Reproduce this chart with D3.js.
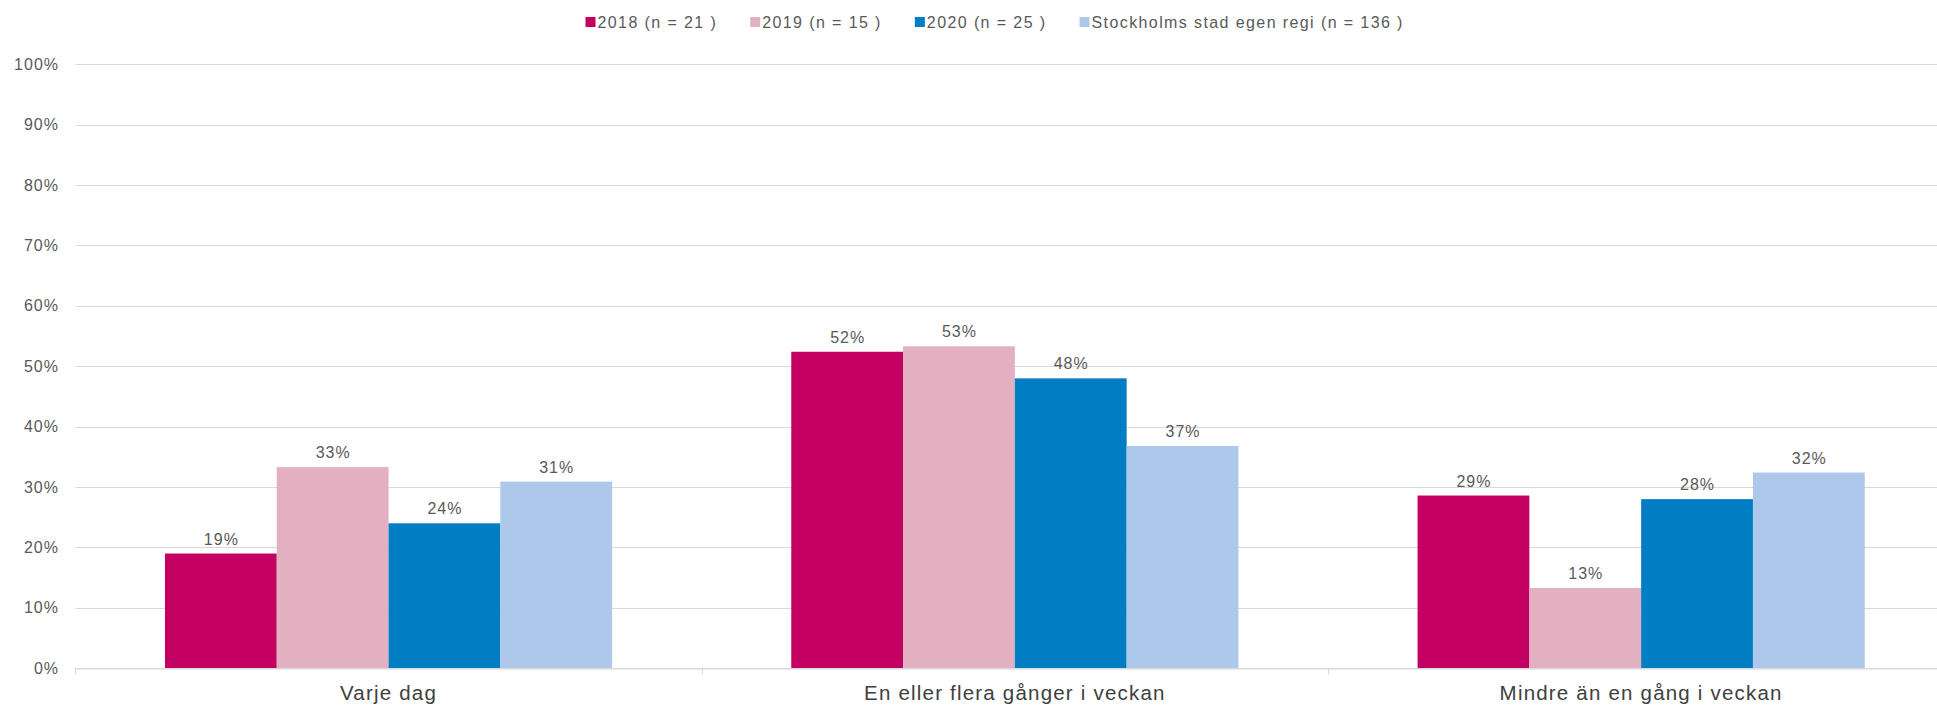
<!DOCTYPE html>
<html><head><meta charset="utf-8">
<script src="https://cdn.jsdelivr.net/npm/d3@7"></script>
<style>
html,body{margin:0;padding:0;background:#fff;overflow:hidden;}
text{font-family:"Liberation Sans",Arial,sans-serif;fill:#595959;}
</style></head>
<body>
<svg id="chart" width="1937" height="707"></svg>
<script>
const categories = ["Varje dag", "En eller flera gånger i veckan", "Mindre än en gång i veckan"];
const seriesNames = ["2018 (n = 21 )", "2019 (n = 15 )", "2020 (n = 25 )", "Stockholms stad egen regi (n = 136 )"];
const s2018 = [19.0, 52.4, 28.6];
const s2019 = [33.3, 53.3, 13.3];
const s2020 = [24.0, 48.0, 28.0];
const sStockholm = [30.9, 36.8, 32.4];
const seriesColors = ["#C30061", "#E3B0C1", "#007DC3", "#ADC8EB"];
const yTicks = [0, 10, 20, 30, 40, 50, 60, 70, 80, 90, 100];

const seriesValues = [s2018, s2019, s2020, sStockholm];
const svg = d3.select("#chart");
const W = 1937, H = 707;
const plotLeft = 75.4, plotRight = 1954.3, plotTop = 64.2, plotBottom = 668.3;

const x0 = d3.scaleBand().domain(categories).range([plotLeft, plotRight]).paddingInner(0.286).paddingOuter(0.143);
const x1 = d3.scaleBand().domain(seriesNames).range([0, x0.bandwidth()]).padding(0);
const y = d3.scaleLinear().domain([0, 100]).range([plotBottom, plotTop]);

// gridlines
svg.append("g").selectAll("line").data(yTicks.filter(d => d > 0)).join("line")
  .attr("x1", plotLeft).attr("x2", W).attr("y1", d => Math.round(y(d)) + 0.5).attr("y2", d => Math.round(y(d)) + 0.5)
  .attr("stroke", "#D9D9D9").attr("stroke-width", 1);

// y labels
svg.append("g").selectAll("text").data(yTicks).join("text")
  .attr("x", 59).attr("y", d => y(d)).attr("dy", "0.35em")
  .attr("text-anchor", "end").style("font-size", "16px").style("letter-spacing", "1px")
  .text(d => d + "%");

// bars
const rows = [];
categories.forEach((c, i) => seriesNames.forEach((s, j) => rows.push({c, s, j, v: seriesValues[j][i]})));
svg.append("g").selectAll("rect").data(rows).join("rect")
  .attr("x", d => x0(d.c) + x1(d.s)).attr("width", x1.bandwidth())
  .attr("y", d => y(d.v)).attr("height", d => y(0) - y(d.v))
  .attr("fill", d => seriesColors[d.j]);

// value labels
svg.append("g").selectAll("text").data(rows).join("text")
  .attr("x", d => x0(d.c) + x1(d.s) + x1.bandwidth() / 2 + 0.5)
  .attr("y", d => y(d.v) - 9)
  .attr("text-anchor", "middle").style("font-size", "16px").style("letter-spacing", "1px")
  .text(d => Math.round(d.v) + "%");

// x axis line and ticks
svg.append("line").attr("x1", plotLeft).attr("x2", W).attr("y1", plotBottom + 0.5).attr("y2", plotBottom + 0.5)
  .attr("stroke", "#D9D9D9").attr("stroke-width", 1.5);
const boundaries = categories.map(c => x0(c) - x0.step() * x0.paddingOuter());
svg.append("g").selectAll("line").data(boundaries).join("line")
  .attr("x1", d => Math.round(d) + 0.5).attr("x2", d => Math.round(d) + 0.5)
  .attr("y1", plotBottom).attr("y2", plotBottom + 6)
  .attr("stroke", "#D9D9D9").attr("stroke-width", 1);

// category labels
svg.append("g").selectAll("text").data(categories).join("text")
  .attr("x", d => x0(d) + x0.bandwidth() / 2).attr("y", 700)
  .attr("text-anchor", "middle").style("font-size", "20.5px").style("letter-spacing", "1.2px")
  .style("fill", "#404040")
  .text(d => d);

// legend
const leg = svg.append("g");
let lx = 585.5;
seriesNames.forEach((s, j) => {
  leg.append("rect").attr("x", lx).attr("y", 17).attr("width", 10).attr("height", 10).attr("fill", seriesColors[j]);
  const t = leg.append("text").attr("x", lx + 12).attr("y", 22).attr("dy", "0.35em")
    .style("font-size", "16px").style("letter-spacing", "1.4px").text(s);
  const w = t.node().getComputedTextLength();
  lx = lx + 12 + w + 33;
});
</script>
</body></html>
